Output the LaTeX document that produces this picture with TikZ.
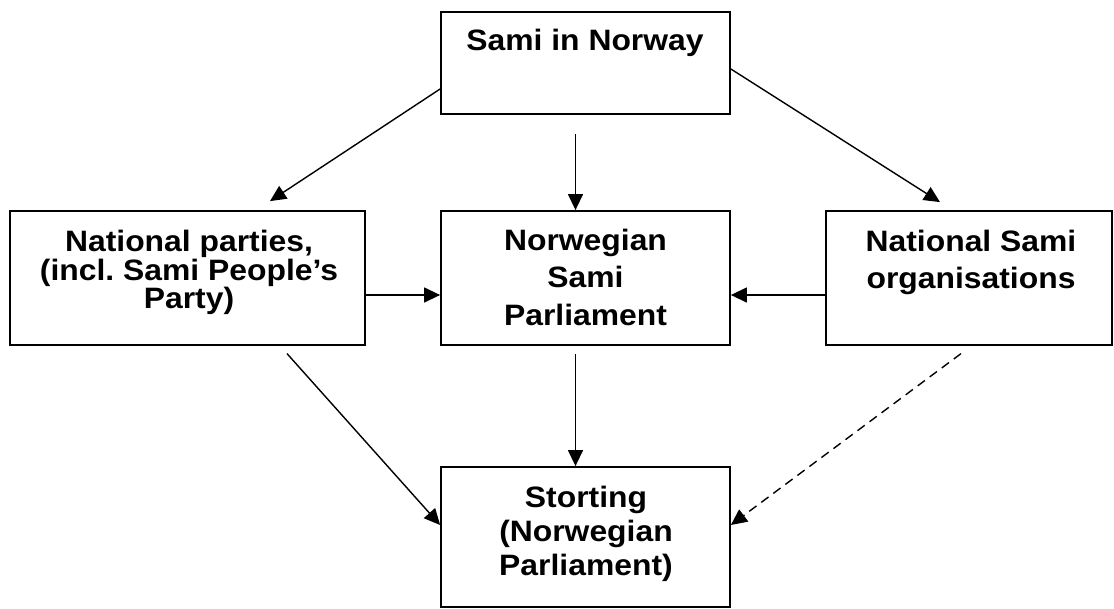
\documentclass[tikz,border=0pt]{standalone}
\usepackage{fontspec}
\newfontfamily\boxfont{Liberation Sans}[FakeStretch=1.08]
\usetikzlibrary{arrows.meta}
\frenchspacing
\begin{document}
\begin{tikzpicture}[x=1pt,y=-1pt,
  box/.style={draw, line width=1.8pt, inner sep=0pt},
  txt/.style={font=\boxfont\bfseries\fontsize{29.5}{#1}\selectfont, align=center, anchor=base, inner sep=0pt},
  arr/.style={-{Triangle[length=16pt,width=15pt]}, line width=1.4pt},
  darr/.style={arr, dash pattern=on 9pt off 6pt}]
\useasboundingbox (0,0) rectangle (1114,608);
% boxes
\node[box, minimum width=289pt, minimum height=102pt] (top) at (585.5,63) {};
\node[box, minimum width=355pt, minimum height=134pt] (left) at (187.5,278) {};
\node[box, minimum width=289pt, minimum height=134pt] (mid) at (585.5,278) {};
\node[box, minimum width=286pt, minimum height=134pt] (right) at (969,278) {};
\node[box, minimum width=289pt, minimum height=140pt] (bot) at (585.5,537) {};
% texts (anchor = baseline of the last line)
\node[txt=28.3pt] (toptxt) at (585,50) {Sami in Norway};
\node[txt=28.3pt] (lefttxt) at (189,308.3) {National parties,\\(incl.\ Sami People’s\\Party)};
\node[txt=37.5pt] (midtxt) at (585.5,325) {Norwegian\\Sami\\Parliament};
\node[txt=36.7pt] (righttxt) at (971,288.3) {National Sami\\organisations};
\node[txt=34pt] (bottxt) at (586,575) {Storting\\(Norwegian\\Parliament)};
% connectors
\draw[arr] ([yshift=-26pt]top.west) -- ([shift={(82.5pt,9pt)}]left.north);
\draw[arr] ([shift={(-10pt,-19pt)}]top.south) -- ([xshift=-10pt]mid.north);
\draw[arr] ([yshift=-6pt]top.east) -- ([shift={(-29pt,8pt)}]right.north);
\draw[arr] ([yshift=-17pt]left.east) -- ([yshift=-17pt]mid.west);
\draw[arr] ([yshift=-17pt]right.west) -- ([yshift=-17pt]mid.east);
\draw[arr] ([shift={(99.5pt,-7.7pt)}]left.south) -- ([yshift=12pt]bot.west);
\draw[arr] ([shift={(-10pt,-7.7pt)}]mid.south) -- ([xshift=-10pt]bot.north);
\draw[darr] ([shift={(-8pt,-7.7pt)}]right.south) -- ([yshift=12pt]bot.east);
\end{tikzpicture}
\end{document}
